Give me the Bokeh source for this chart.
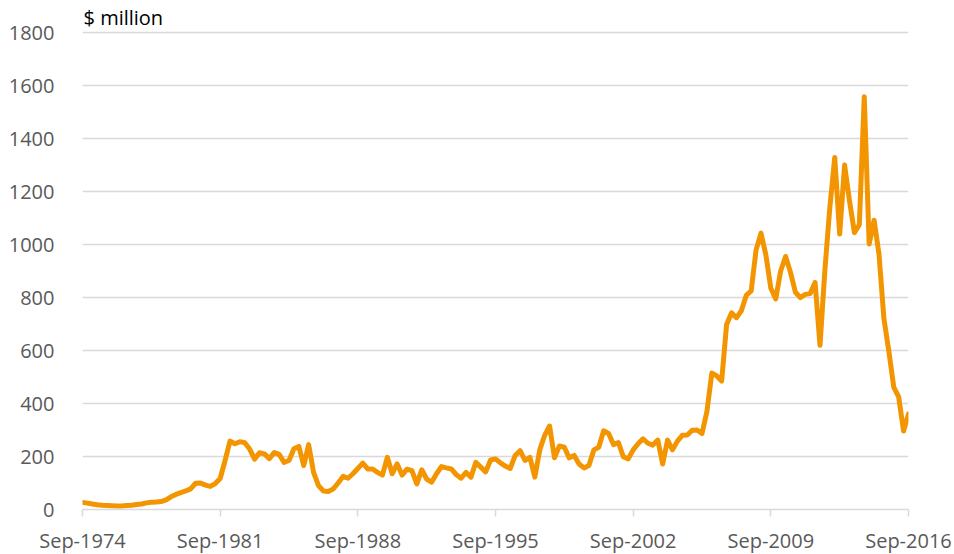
from bokeh.plotting import figure
from bokeh.models import FixedTicker, Range1d
from bokeh.embed import file_html
from bokeh.resources import INLINE

# Quarterly values ($ million), Sep-1974 .. Sep-2016
values = [
    27, 24, 21, 18, 16, 15, 14, 13, 13, 15, 16, 19, 21, 25, 27, 28, 30, 36, 48, 57,
    64, 70, 78, 99, 100, 92, 87, 98, 117, 185, 258, 248, 256, 252, 228, 190,
    214, 210, 192, 215, 208, 178, 185, 229, 238, 166, 245, 140, 90, 70, 68, 78,
    100, 125, 118, 135, 155, 175, 153, 153, 140, 130, 197, 135, 172, 130, 152, 147,
    97, 150,
    115, 103, 135, 162, 157, 153, 132, 118, 140, 122, 178, 160, 142, 187, 191, 176,
    164, 155, 204, 222, 185, 197, 122, 225, 280, 315, 195, 240, 235, 195, 204, 172,
    157, 166, 225, 235,
    297, 287, 245, 253, 199, 191, 225, 248, 267, 250, 243, 262, 172, 262, 225, 258,
    280, 281, 299, 300, 287, 370, 515, 504, 485, 698, 742, 724, 750, 808, 825, 980,
    1043, 960, 835,
    795, 900, 955, 895, 820, 800, 812, 815, 857, 620, 905, 1140, 1329, 1040, 1300,
    1165, 1045, 1075, 1558, 1002, 1092, 964, 720, 598, 462, 425, 296, 361,
]
quarters = list(range(len(values)))

tick_quarters = [0, 28, 56, 84, 112, 140, 168]
tick_labels = ["Sep-1974", "Sep-1981", "Sep-1988", "Sep-1995", "Sep-2002", "Sep-2009", "Sep-2016"]
y_ticks = [0, 200, 400, 600, 800, 1000, 1200, 1400, 1600, 1800]

FONT = "Open Sans"
p = figure(frame_width=826, frame_height=479, output_backend="svg", toolbar_location=None,
           x_range=Range1d(0, 168), y_range=Range1d(0, 1808),
           min_border_left=82, min_border_right=44, min_border_top=30, min_border_bottom=44)
p.outline_line_color = None
p.background_fill_color = "white"
p.border_fill_color = "white"

p.title.text = "$ million"
p.title.text_font = FONT
p.title.text_font_size = "20px"
p.title.text_font_style = "normal"
p.title.text_color = "#000000"
p.title.align = "left"
p.title.standoff = 0
p.title.offset = 1

p.line(quarters, values, line_color="#F39500", line_width=5, line_join="round", line_cap="round")

p.xgrid.visible = False
p.ygrid.grid_line_color = "#d9d9d9"
p.ygrid.grid_line_width = 1.5
p.ygrid.ticker = FixedTicker(ticks=y_ticks)

p.yaxis.ticker = FixedTicker(ticks=y_ticks)
p.yaxis.axis_line_color = None
p.yaxis.major_tick_line_color = None
p.yaxis.minor_tick_line_color = None
p.yaxis.major_label_standoff = 22
p.yaxis.major_label_text_font = FONT
p.yaxis.major_label_text_font_size = "20px"
p.yaxis.major_label_text_color = "#595959"

p.xaxis.ticker = FixedTicker(ticks=tick_quarters)
p.xaxis.major_label_overrides = {q: lab for q, lab in zip(tick_quarters, tick_labels)}
p.xaxis.axis_line_color = "#d9d9d9"
p.xaxis.axis_line_width = 1.5
p.xaxis.major_tick_line_color = "#d9d9d9"
p.xaxis.major_tick_line_width = 1.5
p.xaxis.major_tick_out = 7
p.xaxis.major_tick_in = 0
p.xaxis.minor_tick_line_color = None
p.xaxis.major_label_standoff = 10
p.xaxis.major_label_text_font = FONT
p.xaxis.major_label_text_font_size = "20px"
p.xaxis.major_label_text_color = "#595959"

open("out.html", "w").write(file_html(p, INLINE))
